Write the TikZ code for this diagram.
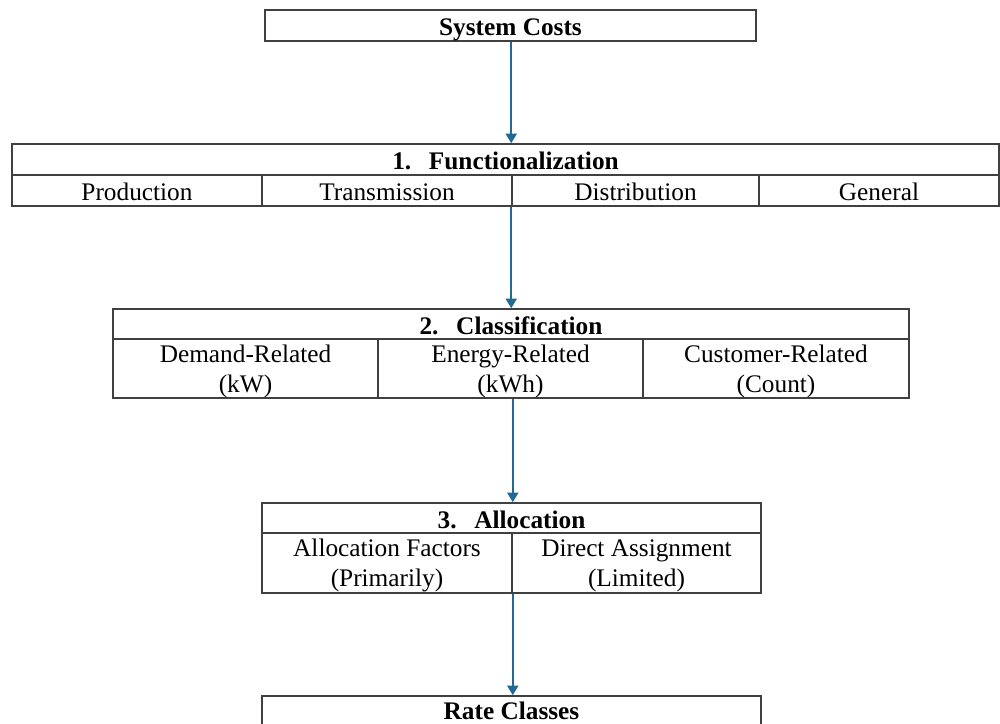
\documentclass[tikz,border=0pt]{standalone}
\usepackage{fontspec}
\setmainfont{Liberation Serif}
\usetikzlibrary{arrows.meta}
\definecolor{boxc}{RGB}{64,64,64}
\definecolor{arrc}{RGB}{35,105,150}
\begin{document}
\begin{tikzpicture}[x=0.02cm,y=-0.02cm,
  cell/.style={draw=boxc,line width=0.9pt,rectangle,inner sep=0pt,align=center,
    font=\fontsize{14.4}{17}\selectfont},
  one/.style={cell,text height=1.25em,text depth=0.1em},
  two/.style={cell,text depth=0pt},
  hdr/.style={one,font=\fontsize{14.4}{17}\selectfont\bfseries},
  arr/.style={draw=arrc,line width=1pt,-{Triangle[width=0.22cm,length=0.19cm]}}]
\useasboundingbox (0,0) rectangle (1000,723);
% System Costs
\node[hdr,minimum width=9.82cm,minimum height=0.62cm] (sys) at (510.5,25.5) {System Costs};
% 1. Functionalization
\node[hdr,minimum width=19.74cm,minimum height=0.62cm] (f1) at (505.5,159.5) {1.\hspace{0.7em}Functionalization};
\node[one,minimum width=5cm,minimum height=0.62cm] (prod) at (137,190.5) {Production};
\node[one,minimum width=5cm,minimum height=0.62cm] (trans) at (387,190.5) {Transmission};
\node[one,minimum width=4.94cm,minimum height=0.62cm] (dist) at (635.5,190.5) {Distribution};
\node[one,minimum width=4.8cm,minimum height=0.62cm] (gen) at (879,190.5) {General};
% 2. Classification
\node[hdr,minimum width=15.92cm,minimum height=0.6cm] (cl) at (511,324) {2.\hspace{0.7em}Classification};
\node[two,minimum width=5.3cm,minimum height=1.18cm] (dem) at (245.5,368.5) {Demand-Related\\(kW)};
\node[two,minimum width=5.3cm,minimum height=1.18cm] (en) at (510.5,368.5) {Energy-Related\\(kWh)};
\node[two,minimum width=5.32cm,minimum height=1.18cm] (cust) at (776,368.5) {Customer-Related\\(Count)};
% 3. Allocation
\node[hdr,minimum width=9.98cm,minimum height=0.6cm] (al) at (511.5,518) {3.\hspace{0.7em}Allocation};
\node[two,minimum width=5cm,minimum height=1.2cm] (af) at (387,563) {Allocation Factors\\(Primarily)};
\node[two,minimum width=4.98cm,minimum height=1.2cm] (da) at (636.5,563) {Direct Assignment\\(Limited)};
% Rate Classes
\node[hdr,text height=0.95em,minimum width=9.98cm,minimum height=0.64cm] (rate) at (511.5,712) {Rate Classes};
% arrows
\draw[arr] (sys.south -| dist.west) -- (f1.north -| dist.west);
\draw[arr] (dist.south west) -- (cl.north -| dist.west);
\draw[arr] (en.south -| af.east) -- (al.north -| af.east);
\draw[arr] (af.south east) -- (rate.north -| af.east);
\end{tikzpicture}
\end{document}
